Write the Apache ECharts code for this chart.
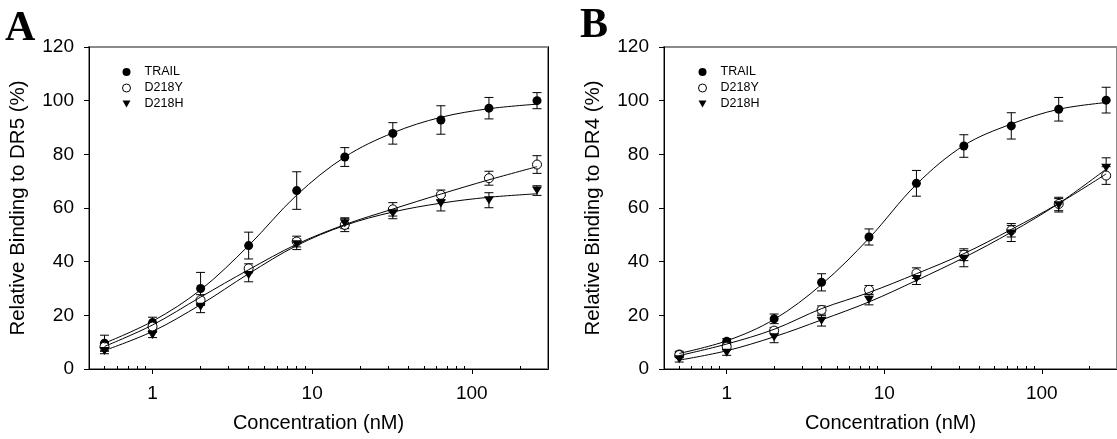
<!DOCTYPE html>
<html><head><meta charset="utf-8">
<script src="https://cdn.jsdelivr.net/npm/echarts@6/dist/echarts.min.js"></script>
<style>html,body{margin:0;padding:0;background:#fff}#c{width:1117px;height:439px}</style>
</head><body><div id="c"></div>
<script>
// ---- data ----
const concentrations = [0.5, 1, 2, 4, 8, 16, 32, 64, 128, 256];
const xTickLabels = [1, 10, 100];
const xMinorTicks = [0.5, 0.6, 0.7, 0.8, 0.9, 2, 3, 4, 5, 6, 7, 8, 9, 20, 30, 40, 50, 60, 70, 80, 90, 200];
const seriesNames = ['TRAIL', 'D218Y', 'D218H'];

// Panel A (DR5)
const trailA    = [9.6, 17.3, 30, 46, 66.5, 79, 87.8, 92.8, 97.2, 100];
const trailAErr = [3, 2, 6, 5, 7, 3.5, 4, 5.3, 4, 3];
const d218yA    = [8.3, 15.8, 25.7, 37.5, 47.5, 53.7, 59.5, 64.9, 71.1, 76.2];
const d218yAErr = [1.5, 1.5, 2, 1.7, 2, 2.5, 2.5, 1.8, 2.6, 3.3];
const d218hA    = [6.7, 12.7, 23.2, 35, 46.5, 54.3, 58, 61.7, 62.9, 66.5];
const d218hAErr = [1, 1, 2.2, 2.5, 2, 2, 2, 2.8, 2.8, 1.8];
const trailAFit = [9.6, 17.8, 29.5, 46, 64.8, 79, 88, 93.8, 97, 98.7];
const d218yAFit = [8.4, 16.4, 26.8, 37, 46.5, 53.8, 59.6, 65.2, 70.5, 75.4];
const d218hAFit = [6.9, 14, 24, 35.5, 46, 53.5, 58.5, 61.8, 64, 65.3];

// Panel B (DR4)
const trailB    = [5.6, 10.3, 18.7, 32.3, 49.2, 69.2, 83.1, 90.6, 96.8, 100.2];
const trailBErr = [1, 1, 1.8, 3.2, 3, 4.8, 4.2, 4.9, 4.4, 4.8];
const d218yB    = [5.2, 8.3, 14.3, 22, 29.5, 35.7, 42.6, 51.7, 61.5, 72.1];
const d218yBErr = [1, 1, 1.2, 1.5, 1.6, 2, 2.2, 2.5, 2.5, 3.3];
const d218hB    = [3.6, 6.1, 11.8, 18, 25.8, 33.5, 41.1, 50.5, 61, 75];
const d218hBErr = [1, 1, 2, 2, 1.9, 2, 3, 3, 2.5, 3.7];
const trailBFit = [5.8, 10.5, 18.5, 31.5, 48.7, 68.8, 83.3, 91.3, 96.8, 99.3];
const d218yBFit = [5, 9.3, 14.8, 22.5, 28.5, 35.5, 43, 52, 61.7, 72.7];
const d218hBFit = [3.3, 6.8, 12, 18.3, 25, 33, 41.5, 51, 61.7, 74.5];

// ---- chart ----
const FONT = '"Liberation Sans", Arial, sans-serif';
const TRI = 'path://M0,0L10,0L5,9Z';
const symbolFor = {
  TRAIL: { symbol: 'circle', symbolSize: 9, itemStyle: { color: '#000', opacity: 1 } },
  D218Y: { symbol: 'circle', symbolSize: 9, itemStyle: { color: '#fff', borderColor: '#000', borderWidth: 1, opacity: 1 } },
  D218H: { symbol: TRI, symbolSize: [10, 8], itemStyle: { color: '#000', opacity: 1 } }
};

const panels = [
  { vals: [trailA, d218yA, d218hA], errs: [trailAErr, d218yAErr, d218hAErr], fits: [trailAFit, d218yAFit, d218hAFit], yName: 'Relative Binding to DR5 (%)' },
  { vals: [trailB, d218yB, d218hB], errs: [trailBErr, d218yBErr, d218hBErr], fits: [trailBFit, d218yBFit, d218hBFit], yName: 'Relative Binding to DR4 (%)' }
];

const grids = [
  { left: 89, top: 47, width: 459, height: 322, show: true, borderColor: '#8a8a8a', borderWidth: 2, backgroundColor: 'transparent' },
  { left: 664, top: 47, width: 459, height: 322, show: true, borderColor: '#8a8a8a', borderWidth: 2, backgroundColor: 'transparent' }
];

const xAxes = [], yAxes = [], series = [], legends = [];
panels.forEach((p, g) => {
  xAxes.push({
    type: 'log', logBase: 10, gridIndex: g, min: 0.4, max: 300,
    axisLine: { show: true, onZero: false, lineStyle: { color: '#000', width: 1 } },
    axisTick: { show: true, length: 5, customValues: xTickLabels, lineStyle: { color: '#000' } },
    axisLabel: { customValues: xTickLabels, margin: 15, fontSize: 19, color: '#000', fontFamily: FONT },
    splitLine: { show: false }, minorTick: { show: false }, minorSplitLine: { show: false },
    name: 'Concentration (nM)', nameLocation: 'middle', nameGap: 44,
    nameTextStyle: { fontSize: 20, color: '#000', fontFamily: FONT }
  });
  xAxes.push({
    type: 'log', logBase: 10, gridIndex: g, min: 0.4, max: 300,
    axisLine: { show: false },
    axisTick: { show: true, length: 3, customValues: xMinorTicks, lineStyle: { color: '#000' } },
    axisLabel: { show: false }, splitLine: { show: false }
  });
  yAxes.push({
    type: 'value', gridIndex: g, min: 0, max: 120, interval: 20,
    axisLine: { show: true, lineStyle: { color: '#000', width: 1 } },
    axisTick: { show: true, length: 5, lineStyle: { color: '#000' } },
    axisLabel: { margin: 15, fontSize: 19, color: '#000', fontFamily: FONT },
    splitLine: { show: false },
    name: p.yName, nameLocation: 'middle', nameGap: 60, nameRotate: 90,
    nameTextStyle: { fontSize: 20.5, color: '#000', fontFamily: FONT }
  });
  yAxes.push({
    type: 'value', gridIndex: g, position: 'right', min: 0, max: 120,
    axisLine: { show: true, lineStyle: { color: '#000', width: 1 } },
    axisTick: { show: false }, axisLabel: { show: false }, splitLine: { show: false }
  });
  const xi = g * 2, yi = g * 2;
  seriesNames.forEach((name, s) => {
    // error bars
    series.push({
      type: 'custom', name: name + ' err', xAxisIndex: xi, yAxisIndex: yi, z: 1, silent: true,
      encode: { x: 0, y: [1, 2] },
      data: concentrations.map((c, i) => [c, p.vals[s][i] - p.errs[s][i], p.vals[s][i] + p.errs[s][i]]),
      renderItem: (params, api) => {
        const lo = api.coord([api.value(0), api.value(1)]);
        const hi = api.coord([api.value(0), api.value(2)]);
        const w = 4.5, st = { stroke: '#000', lineWidth: 1 };
        return { type: 'group', children: [
          { type: 'line', shape: { x1: lo[0], y1: lo[1], x2: hi[0], y2: hi[1] }, style: st },
          { type: 'line', shape: { x1: hi[0] - w, y1: hi[1], x2: hi[0] + w, y2: hi[1] }, style: st },
          { type: 'line', shape: { x1: lo[0] - w, y1: lo[1], x2: lo[0] + w, y2: lo[1] }, style: st }
        ] };
      }
    });
    // points
    series.push(Object.assign({
      type: 'scatter', name: name, xAxisIndex: xi, yAxisIndex: yi, z: 2,
      data: concentrations.map((c, i) => [c, p.vals[s][i]])
    }, symbolFor[name]));
    // fitted curve
    series.push({
      type: 'line', name: name + ' fit', xAxisIndex: xi, yAxisIndex: yi, z: 3,
      showSymbol: false, symbol: 'none', smooth: 0.35,
      lineStyle: { color: '#000', width: 1 },
      data: concentrations.map((c, i) => [c, p.fits[s][i]])
    });
  });
  legends.push({
    left: g === 0 ? 117 : 693, top: 60, orient: 'vertical', selectedMode: false,
    itemWidth: 8, itemHeight: 8, itemGap: 2,
    data: [
      { name: 'TRAIL', icon: 'circle', itemStyle: { color: '#000', opacity: 1 } },
      { name: 'D218Y', icon: 'circle', itemStyle: { color: '#fff', borderColor: '#000', borderWidth: 1, opacity: 1 } },
      { name: 'D218H', icon: TRI, itemStyle: { color: '#000', opacity: 1 } }
    ],
    textStyle: { fontSize: 12.5, color: '#000', fontFamily: FONT, lineHeight: 14, padding: [0, 0, 0, 9] }
  });
});

const chart = echarts.init(document.getElementById('c'), null, { renderer: 'canvas' });
chart.setOption({
  animation: false,
  backgroundColor: '#fff',
  grid: grids,
  xAxis: xAxes,
  yAxis: yAxes,
  legend: legends,
  series: series,
  graphic: [
    { type: 'text', left: 5, top: 8, style: { text: 'A', font: 'bold 42px "Liberation Serif", "Times New Roman", serif', fill: '#000' } },
    { type: 'text', left: 580, top: 5, style: { text: 'B', font: 'bold 42px "Liberation Serif", "Times New Roman", serif', fill: '#000' } }
  ]
});
</script>
</body></html>
